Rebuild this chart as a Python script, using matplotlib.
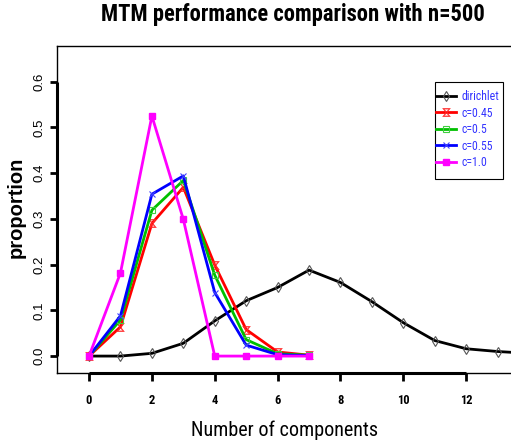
import matplotlib
matplotlib.use("Agg")
import matplotlib.pyplot as plt
from matplotlib.patches import Rectangle
from matplotlib import font_manager

_avail = {f.name for f in font_manager.fontManager.ttflist}
_narrow = None
for _n in ['Liberation Sans Narrow', 'Roboto Condensed', 'Open Sans Condensed', 'DejaVu Sans Condensed', 'Noto Sans Condensed']:
    if _n in _avail:
        _narrow = _n
        break
plt.rcParams['font.family'] = ['Liberation Sans', 'DejaVu Sans']
NARROW = [_narrow, 'Liberation Sans', 'DejaVu Sans'] if _narrow else ['Liberation Sans', 'DejaVu Sans']

x_dir = [0, 1, 2, 3, 4, 5, 6, 7, 8, 9, 10, 11, 12, 13, 14]
dirichlet = [0.0, 0.0, 0.006, 0.028, 0.077, 0.121, 0.150, 0.188, 0.161, 0.119, 0.073, 0.034, 0.016, 0.010, 0.006]
x_c = [0, 1, 2, 3, 4, 5, 6, 7]
c045 = [0.0, 0.064, 0.290, 0.369, 0.199, 0.058, 0.009, 0.002]
c05 = [0.0, 0.079, 0.319, 0.384, 0.177, 0.036, 0.005, 0.002]
c055 = [0.0, 0.088, 0.354, 0.394, 0.139, 0.024, 0.003, 0.001]
c10 = [0.0, 0.182, 0.525, 0.299, 0.0, 0.0, 0.0, 0.0]
labels = ['dirichlet', 'c=0.45', 'c=0.5', 'c=0.55', 'c=1.0']
xticks = [0, 2, 4, 6, 8, 10, 12]
yticks = [0.0, 0.1, 0.2, 0.3, 0.4, 0.5, 0.6]

W, H = 511, 446
fig = plt.figure(figsize=(W/100, H/100), dpi=100)
ax = fig.add_axes([57/W, (H-373)/H, (529-57)/W, (373-46)/H])
xlim = (-1.02, 14.0)
ylim = (-0.037, 0.678)
ax.set_xlim(*xlim)
ax.set_ylim(*ylim)

lw = 2.0
h1, = ax.plot(x_dir, dirichlet, color='black', lw=lw, marker='d', ms=5, mfc='none', mec='#555555', mew=0.8)
h2, = ax.plot(x_c, c045, color='#ff0000', lw=lw, marker='$\u29d6$', ms=6, mec='#ff4040', mew=0.3)
h3, = ax.plot(x_c, c05, color='#00c000', lw=lw, marker='s', ms=4, mfc='none', mec='#40d040', mew=0.8)
h4, = ax.plot(x_c, c055, color='#0000ff', lw=lw, marker='x', ms=4, mec='#4040ff', mew=0.8)
h5, = ax.plot(x_c, c10, color='#ff00ff', lw=lw, marker='s', ms=4, mfc='#ff00ff', mec='#ff00ff')

for s in ax.spines.values():
    s.set_linewidth(1.0)
    s.set_color('black')

# R-style thick axis segments
ax.plot([xlim[0], xlim[0]], [0, 0.6], color='black', lw=2.2, clip_on=False, solid_capstyle='butt')
ax.plot([0, 12], [ylim[0], ylim[0]], color='black', lw=2.2, clip_on=False, solid_capstyle='butt')

ax.set_xticks(xticks)
ax.set_xticklabels([str(t) for t in xticks], fontsize=9, fontweight='bold', family=NARROW)
ax.set_yticks(yticks)
ax.set_yticklabels(['%.1f' % t for t in yticks], fontsize=9.5, rotation=90, va='center')
ax.tick_params(axis='x', direction='out', length=6, width=2, pad=9)
ax.tick_params(axis='y', direction='out', length=5, width=2, pad=3)

ax.set_xlabel('Number of components', fontsize=14.5, family=NARROW)
ax.xaxis.set_label_coords((284.5-57)/472, -(430-373)/327)
ax.xaxis.label.set_va('center')
fig.text(16/W, 1-207/H, 'proportion', rotation=90, fontsize=14.5, fontweight='bold',
         ha='center', va='center')
fig.text(292.5/W, 1-15/H, 'MTM performance comparison with n=500', fontsize=16.3,
         fontweight='bold', ha='center', va='center', family=NARROW)

# legend frame
fig.patches.append(Rectangle((435/W, 1-179/H), (503-435)/W, (179-82)/H,
                             transform=fig.transFigure, fill=True, facecolor='white',
                             edgecolor='black', lw=0.8, zorder=5))
leg = fig.legend([h1, h2, h3, h4, h5], labels, loc='upper left',
                 bbox_to_anchor=(436/W, 1-90/H),
                 frameon=False, handlelength=1.7, borderpad=0.0,
                 labelspacing=0.3, handletextpad=0.5, borderaxespad=0,
                 prop={'family': NARROW, 'size': 8.5})
leg.set_zorder(6)
for t in leg.get_texts():
    t.set_color('#3333ff')

fig.savefig('out.png', dpi=100)
